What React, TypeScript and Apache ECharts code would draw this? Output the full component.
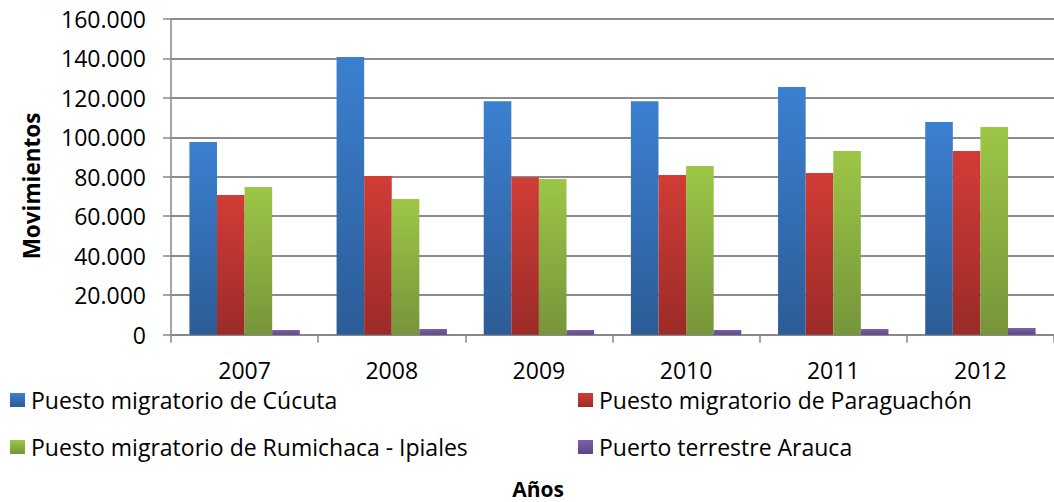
import React, { useEffect, useRef } from "react";
import * as echarts from "echarts";

const years = ["2007", "2008", "2009", "2010", "2011", "2012"];
const cucuta = [97600, 140600, 118300, 118300, 125400, 107700];
const paraguachon = [70700, 80400, 79700, 80900, 81900, 93000];
const rumichaca = [74800, 68700, 78800, 85400, 93000, 105200];
const arauca = [2400, 2900, 2400, 2400, 2900, 3400];

const seriesNames = [
  "Puesto migratorio de Cúcuta",
  "Puesto migratorio de Paraguachón",
  "Puesto migratorio de Rumichaca - Ipiales",
  "Puerto terrestre Arauca",
];
const seriesData = [cucuta, paraguachon, rumichaca, arauca];
const gradients: [string, string][] = [
  ["#3b80d1", "#2c5c96"],
  ["#d23c37", "#9a2b28"],
  ["#9dc647", "#76953a"],
  ["#7d5faa", "#5e4687"],
];

const FONT = "'Open Sans', sans-serif";

export default function App() {
  const ref = useRef<HTMLDivElement>(null);
  useEffect(() => {
    if (!ref.current) return;
    const chart = echarts.init(ref.current, undefined, { renderer: "svg" });
    const legendPos = [
      { left: 10, top: 388 },
      { left: 578, top: 388 },
      { left: 10, top: 435 },
      { left: 578, top: 435 },
    ];
    chart.setOption({
      animation: false,
      backgroundColor: "#ffffff",
      textStyle: { fontFamily: FONT },
      grid: { left: 171, top: 18.8, width: 890, bottom: 167.3 },
      legend: seriesNames.map((n, i) => ({
        data: [n],
        left: legendPos[i].left,
        top: legendPos[i].top,
        padding: 0,
        icon: "rect",
        itemWidth: 15,
        itemHeight: 14,
        itemGap: 0,
        textStyle: {
          fontFamily: FONT,
          fontSize: 23,
          lineHeight: 24,
          color: "#000",
          padding: [0, 0, 0, 1],
        },
        selectedMode: false,
      })),
      xAxis: {
        type: "category",
        data: years,
        boundaryGap: true,
        axisLine: { lineStyle: { color: "#888", width: 1.5 } },
        axisTick: { show: true, length: 8, lineStyle: { color: "#888", width: 1.5 } },
        axisLabel: { fontFamily: FONT, fontSize: 23, lineHeight: 24, color: "#000", margin: 23 },
      },
      yAxis: {
        type: "value",
        min: 0,
        max: 160000,
        interval: 20000,
        axisLine: { show: true, lineStyle: { color: "#888", width: 1.5 } },
        axisTick: { show: true, length: 8, lineStyle: { color: "#888", width: 1.5 } },
        splitLine: { lineStyle: { color: "#8c8c8c", width: 2 } },
        axisLabel: {
          fontFamily: FONT,
          fontSize: 23,
          color: "#000",
          margin: 25,
          formatter: (v: number) => (v === 0 ? "0" : v.toLocaleString("de-DE")),
        },
      },
      graphic: [
        {
          type: "text",
          x: 31,
          y: 186,
          rotation: Math.PI / 2,
          style: {
            text: "Movimientos",
            fontFamily: FONT,
            fontSize: 22.5,
            fontWeight: "bold",
            fill: "#000",
            align: "center",
            verticalAlign: "middle",
          },
        },
        {
          type: "text",
          x: 538,
          y: 489,
          style: {
            text: "Años",
            fontFamily: FONT,
            fontSize: 21,
            fontWeight: "bold",
            fill: "#000",
            align: "center",
            verticalAlign: "middle",
          },
        },
      ],
      series: seriesNames.map((n, i) => ({
        name: n,
        type: "bar",
        data: seriesData[i],
        barGap: "0%",
        barCategoryGap: "25%",
        itemStyle: {
          color: new echarts.graphic.LinearGradient(0, 0, 0, 1, [
            { offset: 0, color: gradients[i][0] },
            { offset: 1, color: gradients[i][1] },
          ]),
        },
      })),
    });
    return () => chart.dispose();
  }, []);
  return (
    <div
      ref={ref}
      style={{ position: "fixed", left: 0, top: 0, width: 1054, height: 502 }}
    />
  );
}
